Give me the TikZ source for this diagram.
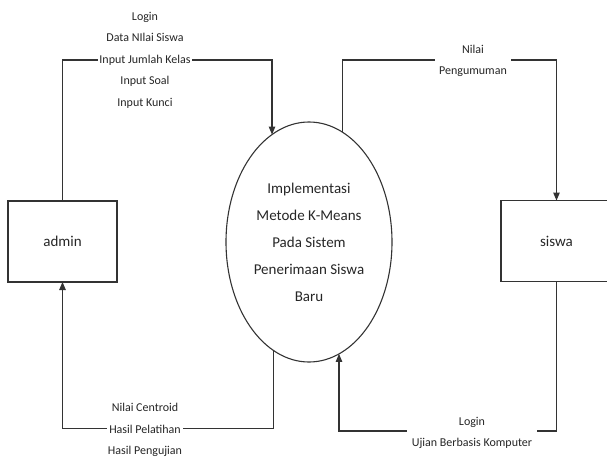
\documentclass[tikz,border=0pt]{standalone}
\usepackage{fontspec}
\setmainfont{Carlito}
\usetikzlibrary{arrows.meta,shapes.geometric}
\definecolor{linegray}{gray}{0.2}
\definecolor{textgray}{gray}{0.15}
\begin{document}
\begin{tikzpicture}[x=1pt,y=-1pt,
  flow/.style={draw=linegray, line width=1.1pt},
  arr/.style={flow,-{Triangle[length=8pt,width=6.5pt]}},
  entity/.style={draw=linegray, line width=1.1pt, minimum width=109pt, minimum height=81pt, inner sep=0pt, outer sep=0pt, font=\fontsize{15}{18}\selectfont, text=textgray},
  proc/.style={ellipse, draw=linegray, line width=1.1pt, minimum width=166pt, minimum height=240pt, inner sep=0pt, outer sep=0pt, align=center, font=\fontsize{15}{27}\selectfont, text=textgray},
  lbl/.style={fill=white, inner sep=1pt, align=center, font=\fontsize{12}{21.5}\selectfont, text=textgray},
]
\useasboundingbox (0,0) rectangle (607,458);
\node[entity] (admin) at (62.5,241.5) {admin};
\node[entity, minimum width=111pt] (siswa) at (556.5,241) {siswa};
\node[proc] (p) at (309,242) {Implementasi\\Metode K-Means\\Pada Sistem\\Penerimaan Siswa\\Baru};
\coordinate (ytop) at (0,60);
\coordinate (ybotL) at (0,428.5);
\coordinate (ybotR) at (0,431);
\draw[arr] (admin.north) -- (admin.north |- ytop) -| (p.109);
\draw[arr] (p.73) -- (p.73 |- ytop) -| (siswa.north);
\draw[arr] (p.252) -- (p.252 |- ybotL) -| (admin.south);
\draw[arr] (siswa.south) -- (siswa.south |- ybotR) -| (p.285);
\node[lbl] (l1) at (145,60) {Login\\Data NIlai Siswa\\Input Jumlah Kelas\\Input Soal\\Input Kunci};
\node[lbl, inner xsep=4pt] (l2) at (473,61) {Nilai\\Pengumuman};
\node[lbl] (l3) at (145,430) {Nilai Centroid\\Hasil Pelatihan\\Hasil Pengujian};
\node[lbl, inner xsep=5pt] (l4) at (472,433) {Login\\Ujian Berbasis Komputer};
\end{tikzpicture}
\end{document}
